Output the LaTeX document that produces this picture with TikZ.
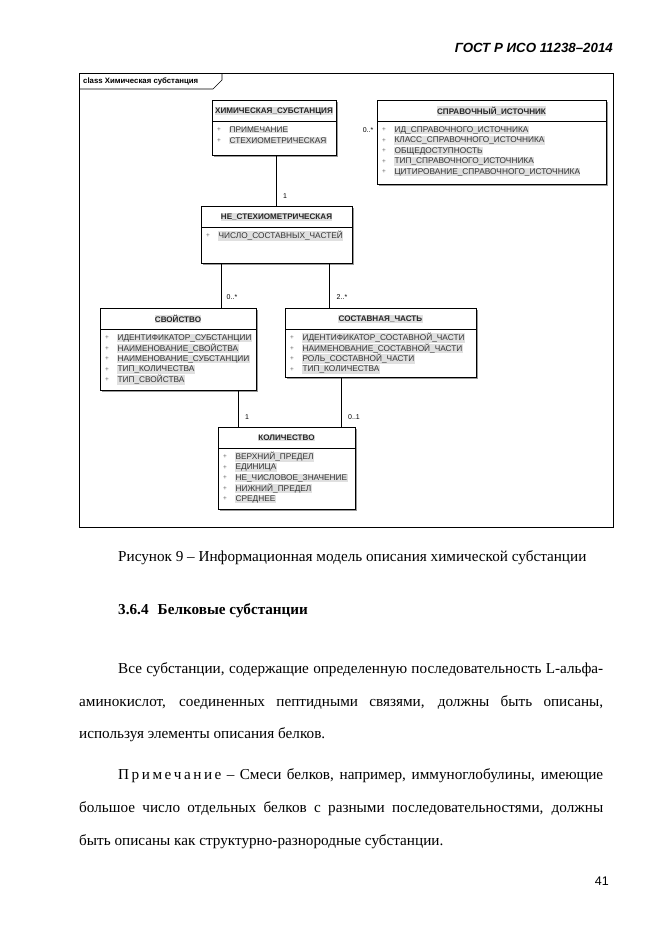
\documentclass[tikz,border=0pt]{standalone}
\usepackage{fontspec}
\setmainfont{Liberation Serif}
\newfontfamily\umlfont{Liberation Sans}
\usetikzlibrary{shadows}

\tikzset{
  umlbox/.style={draw, line width=0.8pt, fill=white, anchor=north west, inner sep=0pt, outer sep=0pt,
    drop shadow={shadow xshift=2pt, shadow yshift=-2pt, fill=black!40, opacity=1}},
  umltitle/.style={font=\umlfont\bfseries\fontsize{8.1}{9}\selectfont, text=black!85, fill=black!12, inner sep=0.4pt},
  umlattr/.style={font=\umlfont\fontsize{8.3}{9}\selectfont, text=black!80, fill=black!12, inner sep=0.4pt, anchor=west},
  umlplus/.style={font=\umlfont\fontsize{6.5}{7}\selectfont, text=black!60, inner sep=0pt},
  mult/.style={font=\umlfont\fontsize{7}{8}\selectfont, inner sep=0pt},
  bodyline/.style={font=\fontsize{15.2}{18}\selectfont, anchor=base west, inner sep=0pt}
}

\begin{document}
\begin{tikzpicture}[x=1pt, y=-1pt, line join=miter]
    \useasboundingbox[fill=white] (0,0) rectangle (661,935);

    % Page header
    \node[font=\umlfont\bfseries\itshape\fontsize{13.3}{15}\selectfont, anchor=base east, inner sep=0pt] (gost) at (613,52) {ГОСТ Р ИСО 11238–2014};

    % Frame
    \node[draw, line width=0.8pt, anchor=north west, minimum width=534pt, minimum height=454pt, inner sep=0pt, outer sep=0pt] (frame) at (79,73) {};
    \draw[line width=0.6pt] ([yshift=-16pt]frame.north west) -- ++(134,0) -- ++(9,-9) -- ++(0,-7);
    \node[font=\umlfont\bfseries\fontsize{7.8}{8}\selectfont, anchor=west, inner sep=0pt] (frametab) at (83,81) {class Химическая субстанция};

    % Classes
    \node[umlbox, minimum width=124pt, minimum height=55pt] (chem) at (212,100) {};
    \node[umlbox, minimum width=229pt, minimum height=84pt] (src) at (377,100) {};
    \node[umlbox, minimum width=151pt, minimum height=57pt] (nonst) at (201,206) {};
    \node[umlbox, minimum width=156pt, minimum height=82pt] (prop) at (100,308) {};
    \node[umlbox, minimum width=191pt, minimum height=69pt] (part) at (285,308) {};
    \node[umlbox, minimum width=137pt, minimum height=82pt] (qty) at (218,427) {};

    % Title compartments
    \foreach \c in {chem, src, nonst, prop, part, qty}
      \draw[line width=0.8pt] ([yshift=-21pt]\c.north west) -- ([yshift=-21pt]\c.north east);
    \node[umltitle] (chem-t) at ([yshift=-11pt]chem.north) {ХИМИЧЕСКАЯ\_СУБСТАНЦИЯ};
    \node[umltitle] (src-t) at ([yshift=-11pt]src.north) {СПРАВОЧНЫЙ\_ИСТОЧНИК};
    \node[umltitle] (nonst-t) at ([yshift=-11pt]nonst.north) {НЕ\_СТЕХИОМЕТРИЧЕСКАЯ};
    \node[umltitle] (prop-t) at ([yshift=-11pt]prop.north) {СВОЙСТВО};
    \node[umltitle] (part-t) at ([yshift=-11pt]part.north) {СОСТАВНАЯ\_ЧАСТЬ};
    \node[umltitle] (qty-t) at ([yshift=-11pt]qty.north) {КОЛИЧЕСТВО};

    % Attributes
    \foreach \c/\list in {chem/{ПРИМЕЧАНИЕ, СТЕХИОМЕТРИЧЕСКАЯ},
        src/{ИД\_СПРАВОЧНОГО\_ИСТОЧНИКА, КЛАСС\_СПРАВОЧНОГО\_ИСТОЧНИКА, ОБЩЕДОСТУПНОСТЬ, ТИП\_СПРАВОЧНОГО\_ИСТОЧНИКА, ЦИТИРОВАНИЕ\_СПРАВОЧНОГО\_ИСТОЧНИКА},
        nonst/{ЧИСЛО\_СОСТАВНЫХ\_ЧАСТЕЙ},
        prop/{ИДЕНТИФИКАТОР\_СУБСТАНЦИИ, НАИМЕНОВАНИЕ\_СВОЙСТВА, НАИМЕНОВАНИЕ\_СУБСТАНЦИИ, ТИП\_КОЛИЧЕСТВА, ТИП\_СВОЙСТВА},
        part/{ИДЕНТИФИКАТОР\_СОСТАВНОЙ\_ЧАСТИ, НАИМЕНОВАНИЕ\_СОСТАВНОЙ\_ЧАСТИ, РОЛЬ\_СОСТАВНОЙ\_ЧАСТИ, ТИП\_КОЛИЧЕСТВА},
        qty/{ВЕРХНИЙ\_ПРЕДЕЛ, ЕДИНИЦА, НЕ\_ЧИСЛОВОЕ\_ЗНАЧЕНИЕ, НИЖНИЙ\_ПРЕДЕЛ, СРЕДНЕЕ}}
      \foreach \a [count=\i] in \list {
        \node[umlplus] (\c-p\i) at ([xshift=7pt, yshift={-(19.5+10.5*\i)*1pt}]\c.north west) {+};
        \node[umlattr] (\c-a\i) at ([xshift=17pt, yshift={-(19.5+10.5*\i)*1pt}]\c.north west) {\a};
      };

    % Associations
    \draw[line width=0.8pt] ([xshift=2pt]chem.south) -- ([xshift=-0.5pt]nonst.north);
    \draw[line width=0.8pt] ([xshift=-55.5pt]nonst.south) -- ([xshift=43pt]prop.north);
    \draw[line width=0.8pt] ([xshift=52.5pt]nonst.south) -- ([xshift=-51.5pt]part.north);
    \draw[line width=0.8pt] ([xshift=60pt]prop.south) -- ([xshift=-48.5pt]qty.north);
    \draw[line width=0.8pt] ([xshift=-39.5pt]part.south) -- ([xshift=54.5pt]qty.north);

    % Multiplicities
    \node[mult] (m1) at (368,130) {0..*};
    \node[mult] (m2) at (285,196) {1};
    \node[mult] (m3) at (232,297) {0..*};
    \node[mult] (m4) at (342,297) {2..*};
    \node[mult] (m5) at (247,417) {1};
    \node[mult] (m6) at (354,417) {0..1};

    % Text below the figure
    \node[bodyline] (caption) at (118,561) {Рисунок 9 – Информационная модель описания химической субстанции};
    \node[bodyline, font=\bfseries\fontsize{15.2}{18}\selectfont] (sect) at (118,614) {3.6.4\hspace{0.6em}Белковые субстанции};
    \node[bodyline] (l1) at (118,673) {\makebox[485pt][s]{Все субстанции, содержащие определенную последовательность L-альфа-}};
    \node[bodyline] (l2) at (79,706) {\makebox[524pt][s]{аминокислот, соединенных пептидными связями, должны быть описаны,}};
    \node[bodyline] (l3) at (79,738) {используя элементы описания белков.};
    \node[bodyline] (l4) at (118,779) {\makebox[485pt][s]{П\,р\,и\,м\,е\,ч\,а\,н\,и\,е – Смеси белков, например, иммуноглобулины, имеющие}};
    \node[bodyline] (l5) at (79,812) {\makebox[524pt][s]{большое число отдельных белков с разными последовательностями, должны}};
    \node[bodyline] (l6) at (79,845) {быть описаны как структурно-разнородные субстанции.};
    \node[font=\umlfont\fontsize{12.5}{14}\selectfont, anchor=base east, inner sep=0pt] (pagenum) at (609,885) {41};

\end{tikzpicture}
\end{document}
